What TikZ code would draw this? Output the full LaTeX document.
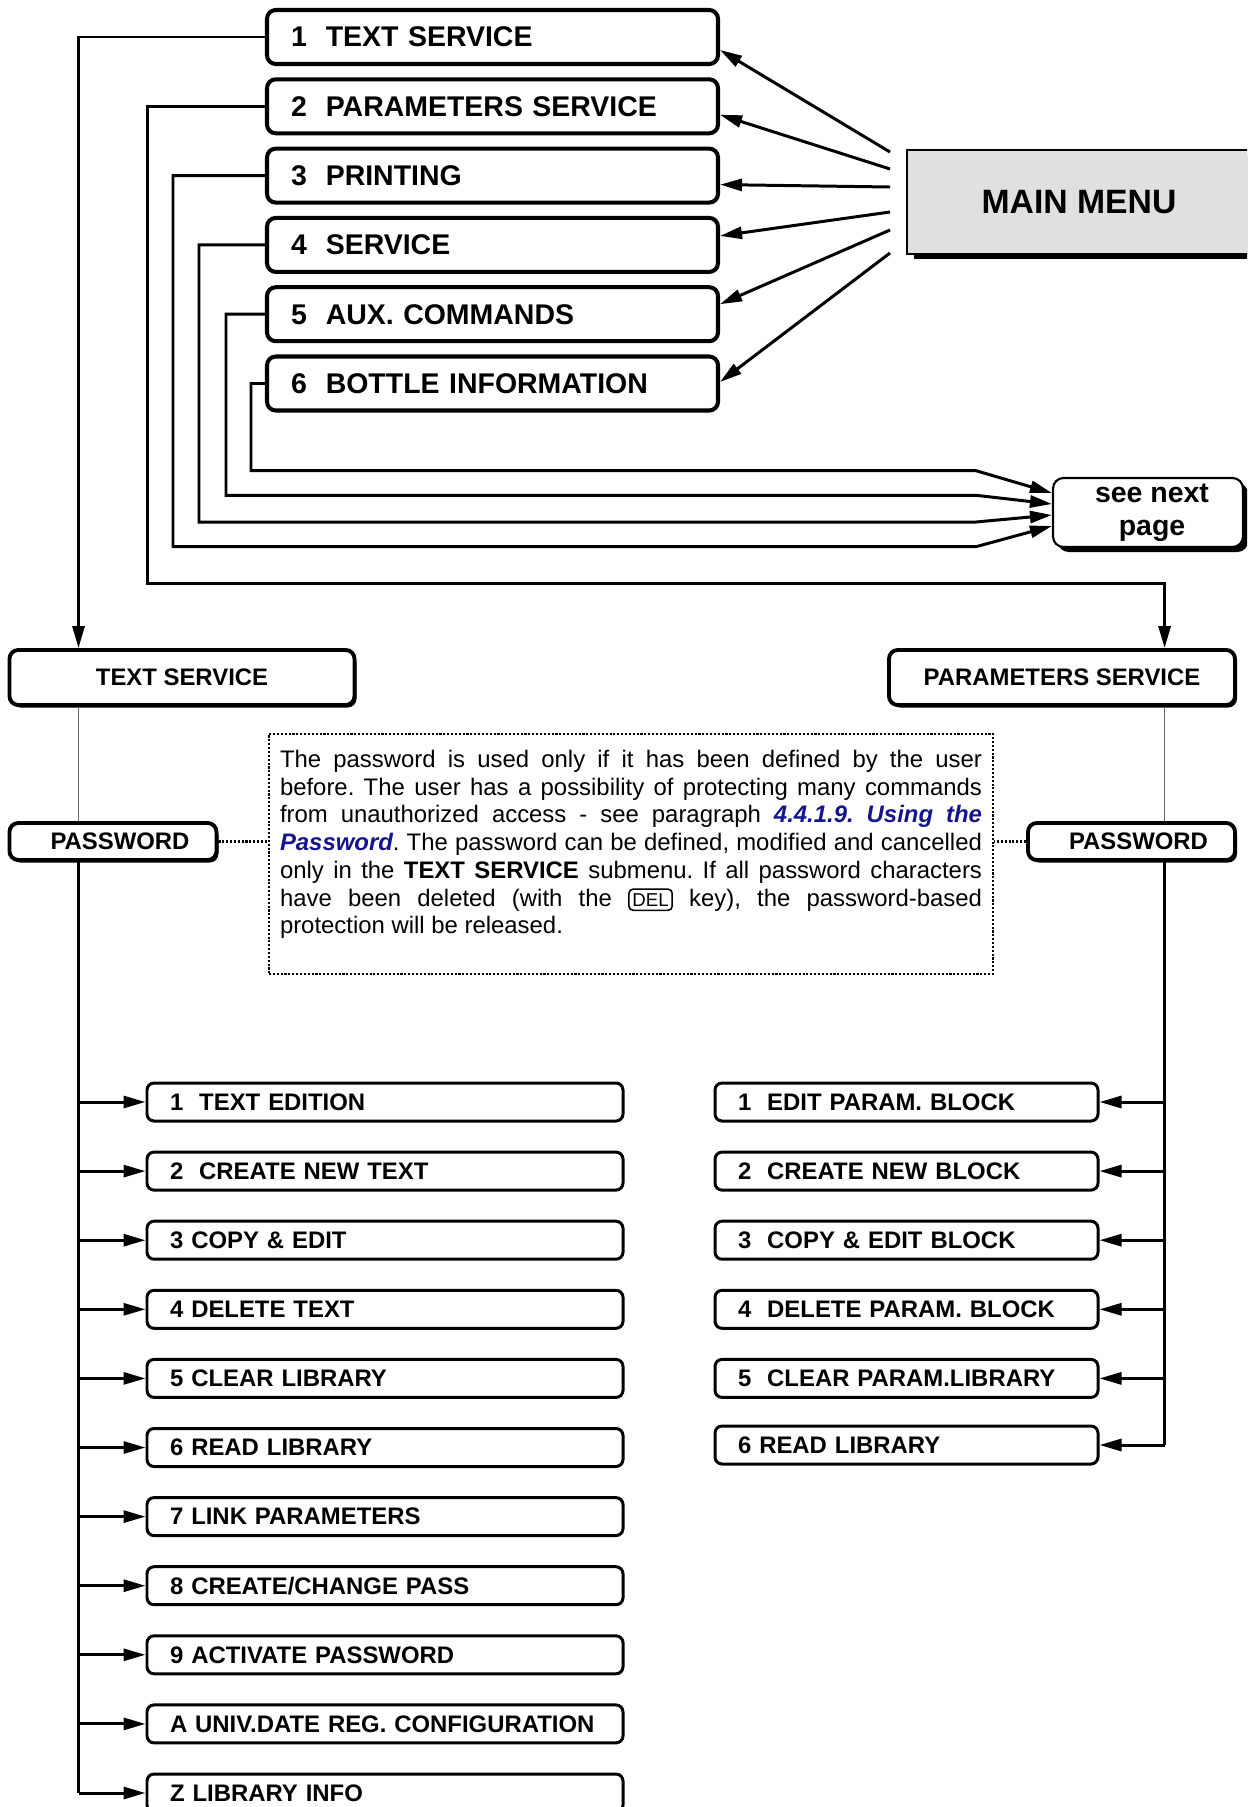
\documentclass[tikz,border=0pt]{standalone}
\usepackage{fontspec}
\setmainfont{Liberation Sans}
\usetikzlibrary{arrows.meta,shadows}
\definecolor{linkblue}{RGB}{20,20,140}
\newcommand{\jl}[1]{\makebox[\linewidth][s]{#1}}
\newcommand{\lnk}[1]{{\color{linkblue}\bfseries\itshape #1}}
\newcommand{\delkey}{\tikz[baseline=(dk.base)] \node [draw, solid, line width=0.45pt, rounded corners=1.2pt, minimum width=0pt, minimum height=0pt, inner xsep=1pt, inner ysep=1.2pt, font=\fontsize{5.3}{6}\selectfont] (dk) {DEL};}

\begin{document}
\begin{tikzpicture}[
	menuitem/.style={draw, line width=1.15pt, rounded corners=2.5pt, text width=4.03cm, minimum height=0.54cm, inner xsep=0.24cm, inner ysep=0pt, align=left, font=\fontsize{8.1}{9.7}\selectfont\bfseries},
	header/.style={draw, fill=white, line width=1.1pt, rounded corners=2.5pt, minimum height=0.55cm, inner sep=0pt, font=\fontsize{6.8}{8}\selectfont\bfseries, drop shadow={shadow xshift=0.02cm, shadow yshift=-0.025cm, fill=black, opacity=1}},
	subitem/.style={draw, line width=0.85pt, rounded corners=2pt, minimum height=0.38cm, inner xsep=0.23cm, inner ysep=0pt, align=left, font=\fontsize{6.8}{8}\selectfont\bfseries},
	litem/.style={subitem, text width=4.30cm},
	ritem/.style={subitem, text width=3.37cm},
	lane/.style={line width=0.85pt},
	arr/.style={line width=0.85pt, -{Triangle[length=0.22cm, width=0.12cm]}},
	dots/.style={dash pattern=on 0.6pt off 0.5pt, line width=0.6pt}
]
		\useasboundingbox (0,0) rectangle (12.47,-18.07);
		\clip (0,0) rectangle (12.47,-18.07);

		\draw (4.925,-0.37) node [menuitem] (txt) {1\ \ TEXT SERVICE};
		\draw (4.925,-1.063) node [menuitem] (par) {2\ \ PARAMETERS SERVICE};
		\draw (4.925,-1.756) node [menuitem] (prn) {3\ \ PRINTING};
		\draw (4.925,-2.449) node [menuitem] (srv) {4\ \ SERVICE};
		\draw (4.925,-3.142) node [menuitem] (aux) {5\ \ AUX. COMMANDS};
		\draw (4.925,-3.835) node [menuitem] (btl) {6\ \ BOTTLE INFORMATION};

		\draw (10.79,-2.02) node [draw, line width=0.4pt, fill=black!12, minimum width=3.44cm, minimum height=1.04cm, font=\fontsize{9.6}{11}\selectfont\bfseries, drop shadow={shadow xshift=0.07cm, shadow yshift=-0.05cm, fill=black, opacity=1}] (menu) {MAIN MENU};
		\draw (11.48,-5.125) node [draw, fill=white, line width=0.6pt, rounded corners=3pt, minimum width=1.90cm, minimum height=0.69cm, inner sep=0pt, align=center, font=\fontsize{8.1}{9.4}\selectfont\bfseries, drop shadow={shadow xshift=0.05cm, shadow yshift=-0.05cm, fill=black, opacity=1}] (snp) {\hspace{0.08cm}see next\\\hspace{0.08cm}page};

		\draw (1.82,-6.775) node [header, minimum width=3.45cm] (ts) {TEXT SERVICE};
		\draw (10.62,-6.775) node [header, minimum width=3.46cm] (ps) {PARAMETERS SERVICE};
		\draw (1.13,-8.415) node [header, minimum width=2.07cm, minimum height=0.37cm] (pwt) {\hspace{0.14cm}PASSWORD};
		\draw (11.315,-8.415) node [header, minimum width=2.07cm, minimum height=0.37cm] (pwp) {\hspace{0.14cm}PASSWORD};

		\draw (6.31,-8.54) node [draw, dots, minimum width=7.24cm, minimum height=2.40cm, inner sep=0.11cm] (note) {\parbox[c][2.18cm][t]{7.02cm}{\fontsize{6.8}{7.9}\selectfont\frenchspacing\vspace*{0.05cm}%
			\jl{The password is used only if it has been defined by the user}\\
			\jl{before. The user has a possibility of protecting many commands}\\
			\jl{from unauthorized access - see paragraph \lnk{4.4.1.9. Using the}}\\
			\jl{\lnk{Password}. The password can be defined, modified and cancelled}\\
			\jl{only in the \textbf{TEXT SERVICE} submenu. If all password characters}\\
			\jl{have been deleted (with the \delkey{} key), the password-based}\\
			protection will be released.}};

		\draw (3.85,-11.02) node [litem] (l1) {1\ \ TEXT EDITION};
		\draw (3.85,-11.711) node [litem] (l2) {2\ \ CREATE NEW TEXT};
		\draw (3.85,-12.402) node [litem] (l3) {3 COPY \& EDIT};
		\draw (3.85,-13.093) node [litem] (l4) {4 DELETE TEXT};
		\draw (3.85,-13.784) node [litem] (l5) {5 CLEAR LIBRARY};
		\draw (3.85,-14.475) node [litem] (l6) {6 READ LIBRARY};
		\draw (3.85,-15.166) node [litem] (l7) {7 LINK PARAMETERS};
		\draw (3.85,-15.857) node [litem] (l8) {8 CREATE/CHANGE PASS};
		\draw (3.85,-16.548) node [litem] (l9) {9 ACTIVATE PASSWORD};
		\draw (3.85,-17.239) node [litem] (l10) {\mbox{A UNIV.DATE REG. CONFIGURATION}};
		\draw (3.85,-17.93) node [litem] (l11) {Z LIBRARY INFO};

		\draw (9.065,-11.02) node [ritem] (r1) {1\ \ EDIT PARAM. BLOCK};
		\draw (9.065,-11.711) node [ritem] (r2) {2\ \ CREATE NEW BLOCK};
		\draw (9.065,-12.402) node [ritem] (r3) {3\ \ COPY \& EDIT BLOCK};
		\draw (9.065,-13.093) node [ritem] (r4) {4\ \ DELETE PARAM. BLOCK};
		\draw (9.065,-13.784) node [ritem] (r5) {5\ \ CLEAR PARAM.LIBRARY};
		\draw (9.065,-14.45) node [ritem] (r6) {6 READ LIBRARY};

		\coordinate (tl) at (0.785,-8.6);
		\coordinate (tr) at (11.646,-8.6);
		\coordinate (bend) at (9.76,-5);
		\coordinate (c2) at (1.475,-5.83);
		\coordinate (c3) at (1.73,-5.467);
		\coordinate (c4) at (1.99,-5.22);
		\coordinate (c5) at (2.26,-4.953);
		\coordinate (c6) at (2.51,-4.707);
		\coordinate (m1) at (8.90,-1.52);
		\coordinate (m2) at (8.90,-1.69);
		\coordinate (m3) at (8.90,-1.87);
		\coordinate (m4) at (8.90,-2.12);
		\coordinate (m5) at (8.90,-2.30);
		\coordinate (m6) at (8.90,-2.53);

		\path [arr]
			(m1) edge ([yshift=-0.13cm]txt.east)
			(m2) edge ([yshift=-0.085cm]par.east)
			(m3) edge ([yshift=-0.09cm]prn.east)
			(m4) edge ([yshift=0.09cm]srv.east)
			(m5) edge ([yshift=0.10cm]aux.east)
			(m6) edge ([yshift=0.015cm]btl.east)
		;

		\draw [arr] (txt.west) -| (tl |- ts.north);
		\draw [arr] (par.west) -| (c2) -| (tr |- ps.north);
		\draw [arr] (prn.west) -| (c3) -- (c3 -| bend) -- ([yshift=-0.135cm]snp.west);
		\draw [arr] (srv.west) -| (c4) -- (c4 -| bend) -- ([yshift=-0.025cm]snp.west);
		\draw [arr] (aux.west) -| (c5) -- (c5 -| bend) -- ([yshift=0.085cm]snp.west);
		\draw [arr] (btl.west) -| (c6) -- (c6 -| bend) -- ([yshift=0.195cm]snp.west);

		\draw [line width=0.3pt, black!60] (tl |- ts.south) -- (tl |- pwt.north);
		\draw [line width=0.3pt, black!60] (tr |- ps.south) -- (tr |- pwp.north);
		\draw [dots] (pwt.east) -- (note.west |- pwt.east);
		\draw [dots] (pwp.west) -- (note.east |- pwp.west);

		\draw [lane] (tl |- pwt.south) -- (tl |- l11.west);
		\draw [lane] (tr |- pwp.south) -- (tr |- r6.east);

		\path [arr]
			(tl |- l1.west) edge (l1.west)
			(tl |- l2.west) edge (l2.west)
			(tl |- l3.west) edge (l3.west)
			(tl |- l4.west) edge (l4.west)
			(tl |- l5.west) edge (l5.west)
			(tl |- l6.west) edge (l6.west)
			(tl |- l7.west) edge (l7.west)
			(tl |- l8.west) edge (l8.west)
			(tl |- l9.west) edge (l9.west)
			(tl |- l10.west) edge (l10.west)
			(tl |- l11.west) edge (l11.west)
		;
		\path [arr]
			(tr |- r1.east) edge (r1.east)
			(tr |- r2.east) edge (r2.east)
			(tr |- r3.east) edge (r3.east)
			(tr |- r4.east) edge (r4.east)
			(tr |- r5.east) edge (r5.east)
			(tr |- r6.east) edge (r6.east)
		;
	\end{tikzpicture}
\end{document}
